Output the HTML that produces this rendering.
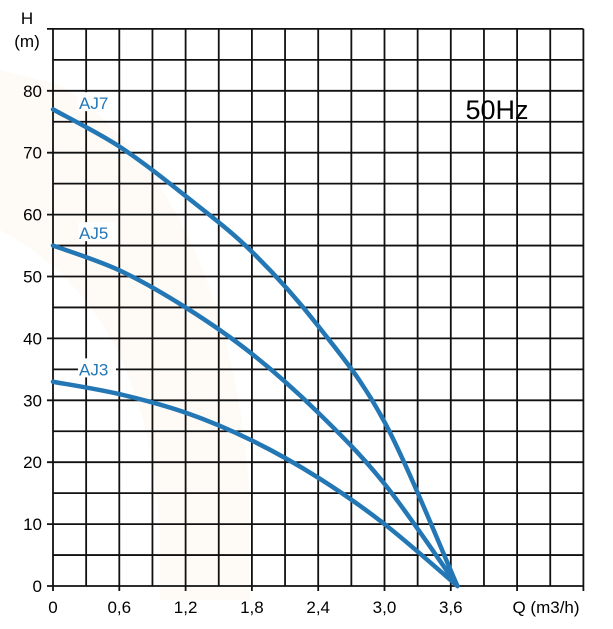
<!DOCTYPE html>
<html><head><meta charset="utf-8"><style>
body{margin:0;background:#fff;}
svg{display:block;font-family:"Liberation Sans",Arial,sans-serif;}
</style></head><body>
<svg id="chart" width="613" height="629" viewBox="0 0 613 629">
<path d="M0 70 L60 85 Q230 200 250 500 L250 600 L160 600 Q170 320 0 230 Z" fill="#fefaf6"/>
<g id="grid"></g>
<g id="axes"></g>
<g id="curves"></g>
<text x="27" y="24" font-size="17" text-anchor="middle">H</text>
<text x="27" y="47" font-size="17" text-anchor="middle">(m)</text>
<text x="546" y="613" font-size="17" text-anchor="middle">Q (m3/h)</text>
<text x="497" y="119" font-size="27" text-anchor="middle">50Hz</text>
</svg>
<script>
const xTicks=[0,0.6,1.2,1.8,2.4,3.0,3.6];
const xTickLabels=["0","0,6","1,2","1,8","2,4","3,0","3,6"];
const yTicks=[0,10,20,30,40,50,60,70,80];
const seriesNames=["AJ7","AJ5","AJ3"];
const flowQ=[0,0.6,1.2,1.8,2.4,3.0,3.66];
const headAJ7=[77,71,63,54,42,26.5,0];
const headAJ5=[55,51,45,37.5,28,16.5,0];
const headAJ3=[33,31,28,23.5,17.5,10,0];
const labelPos=[78,57,35];

const X0=53,Y0=586,XS=66.3/0.6,YS=61.9/10,XMAX=4.8,YMAX=90;
const sx=q=>X0+q*XS, sy=h=>Y0-h*YS;
const NS="http://www.w3.org/2000/svg";
function mk(p,t,a){const e=document.createElementNS(NS,t);for(const k in a)e.setAttribute(k,a[k]);p.appendChild(e);return e;}
const grid=document.getElementById('grid'),axes=document.getElementById('axes'),curves=document.getElementById('curves');
for(let i=0;i<=16;i++){const x=sx(i*0.3);
 const l=mk(grid,'line',{x1:x,x2:x,y1:sy(YMAX),y2:Y0+(i%2==0?5:0),stroke:'#111','stroke-width':1.8});
 
 }
for(let i=0;i<=18;i++){const y=sy(i*5);
 const l=mk(grid,'line',{x1:X0-(i%2==0?6:0),x2:sx(XMAX),y1:y,y2:y,stroke:'#111','stroke-width':1.8});
 
 }
xTicks.forEach((v,i)=>{const t=mk(axes,'text',{x:sx(v),y:613,'font-size':17,'text-anchor':'middle'});t.textContent=xTickLabels[i];
 
 });
yTicks.forEach(v=>{const t=mk(axes,'text',{x:42,y:sy(v)+6,'font-size':17,'text-anchor':'end'});t.textContent=v;
 
 });
function pathFor(h){const p=flowQ.map((q,i)=>[sx(q),sy(h[i])]);let d='M'+p[0];
 for(let i=0;i<p.length-1;i++){const a=p[i-1]||p[i],b=p[i],c=p[i+1],e=p[i+2]||c;
  const c1=[b[0]+(c[0]-a[0])/6,b[1]+(c[1]-a[1])/6],c2=[c[0]-(e[0]-b[0])/6,c[1]-(e[1]-b[1])/6];
  d+=' C'+c1+' '+c2+' '+c;}return d;}
[headAJ7,headAJ5,headAJ3].forEach((h,i)=>{
 const p=mk(curves,'path',{d:pathFor(h),fill:'none',stroke:'#2477b5','stroke-width':4.5,'stroke-linecap':'round'});
 
 
 const y=sy(labelPos[i]);
 const r=mk(curves,'rect',{x:X0+25,y:y-11,width:38,height:19,fill:'#fff'});
 
 
 const t=mk(curves,'text',{x:X0+26,y:y+6,'font-size':17,fill:'#2477b5'});t.textContent=seriesNames[i];
 
 });
</script>
</body></html>
